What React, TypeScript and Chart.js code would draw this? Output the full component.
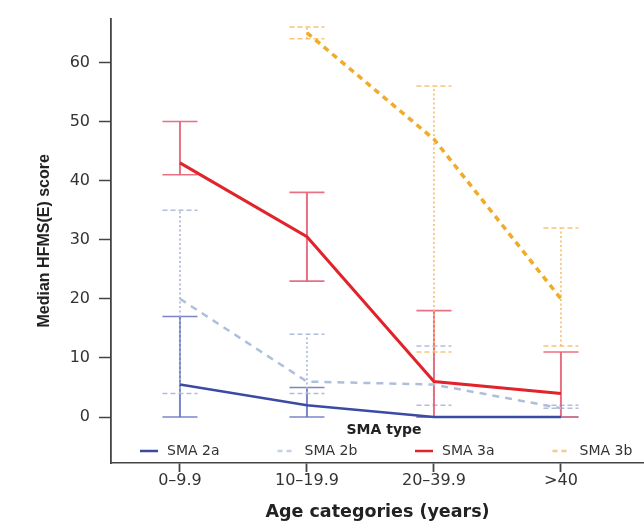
import React, { useEffect, useRef } from 'react';
import { Chart, registerables } from 'chart.js';

Chart.register(...registerables);

// ---- data ----
const categories = ['0–9.9', '10–19.9', '20–39.9', '>40'];
const categoryPositions = [1, 2, 3, 4];
const yTickValues = [0, 10, 20, 30, 40, 50, 60];
const legendTitle = 'SMA type';
const seriesNames = ['SMA 2a', 'SMA 2b', 'SMA 3a', 'SMA 3b'];

const sma2aMedian = [5.5, 2, 0, 0];
const sma2aLow = [0, 0, 0, 0];
const sma2aHigh = [17, 5, 0, 0];

const sma2bMedian = [20, 6, 5.5, 1.5];
const sma2bLow = [4, 4, 2, 1.5];
const sma2bHigh = [35, 14, 12, 2];

const sma3aMedian = [43, 30.5, 6, 4];
const sma3aLow = [41, 23, 0, 0];
const sma3aHigh = [50, 38, 18, 11];

const sma3bMedian = [null, 65, 47, 20];
const sma3bLow = [null, 64, 11, 12];
const sma3bHigh = [null, 66, 56, 32];

const WIDE = '"DejaVu Sans", Verdana, sans-serif';
const NARROW = '"Liberation Sans", Arial, Helvetica, sans-serif';

const toPoints = (vals: (number | null)[]) =>
  vals
    .map((v, i) => (v == null ? null : { x: categoryPositions[i], y: v }))
    .filter((p) => p !== null);

const errorBarPlugin = {
  id: 'errorBars',
  beforeDatasetsDraw(chart: any) {
    const { ctx } = chart;
    const xs = chart.scales.x;
    const ys = chart.scales.y;
    chart.data.datasets.forEach((ds: any) => {
      ds.errLow.forEach((lo: number | null, i: number) => {
        const hi = ds.errHigh[i];
        if (lo == null || hi == null) return;
        const px = xs.getPixelForValue(categoryPositions[i]);
        const pLo = ys.getPixelForValue(lo);
        const pHi = ys.getPixelForValue(hi);
        const half = 17.5;
        ctx.save();
        ctx.strokeStyle = ds.errColor;
        ctx.lineWidth = ds.errWidth;
        ctx.setLineDash(ds.errDash);
        ctx.beginPath();
        ctx.moveTo(px, pLo);
        ctx.lineTo(px, pHi);
        ctx.stroke();
        ctx.setLineDash(ds.capDash);
        ctx.lineWidth = ds.capWidth;
        ctx.beginPath();
        ctx.moveTo(px - half, pLo);
        ctx.lineTo(px + half, pLo);
        ctx.moveTo(px - half, pHi);
        ctx.lineTo(px + half, pHi);
        ctx.stroke();
        ctx.restore();
      });
    });
  },
};

const insideLegendPlugin = {
  id: 'insideLegend',
  afterDraw(chart: any) {
    const { ctx, chartArea } = chart;
    ctx.save();
    ctx.textBaseline = 'middle';
    ctx.font = `bold 14px ${WIDE}`;
    ctx.fillStyle = '#222';
    ctx.textAlign = 'center';
    ctx.fillText(legendTitle, chartArea.left + 273, chartArea.bottom - 33);
    ctx.font = `14px ${WIDE}`;
    ctx.textAlign = 'left';
    const rowY = chartArea.bottom - 12;
    chart.data.datasets.forEach((ds: any, i: number) => {
      const x0 = chartArea.left + 29 + i * 137.5;
      ctx.save();
      ctx.strokeStyle = ds.legendColor;
      ctx.lineWidth = 2.5;
      ctx.setLineDash(ds.legendDash);
      ctx.beginPath();
      ctx.moveTo(x0, rowY);
      ctx.lineTo(x0 + 18, rowY);
      ctx.stroke();
      ctx.restore();
      ctx.fillStyle = '#333';
      ctx.fillText(ds.label, x0 + 27, rowY + 0.5);
    });
    ctx.restore();
  },
};

export default function App() {
  const canvasRef = useRef<HTMLCanvasElement | null>(null);

  useEffect(() => {
    document.body.style.margin = '0';
    const canvas = canvasRef.current;
    if (!canvas) return;
    const chart = new Chart(canvas, {
      type: 'line',
      data: {
        datasets: [
          {
            label: seriesNames[0],
            data: toPoints(sma2aMedian),
            borderColor: '#3b4ba3',
            borderWidth: 2.5,
            pointRadius: 0,
            errLow: sma2aLow,
            errHigh: sma2aHigh,
            errColor: 'rgba(100,112,190,0.85)',
            errWidth: 2,
            capWidth: 1.6,
            errDash: [],
            capDash: [],
            legendColor: '#3b4ba3',
            legendDash: [],
          } as any,
          {
            label: seriesNames[1],
            data: toPoints(sma2bMedian),
            borderColor: '#aebfdc',
            borderWidth: 2.5,
            borderDash: [7, 6],
            pointRadius: 0,
            errLow: sma2bLow,
            errHigh: sma2bHigh,
            errColor: 'rgba(170,182,215,0.9)',
            errWidth: 1.8,
            capWidth: 1.5,
            errDash: [2, 2.5],
            capDash: [5, 3],
            legendColor: '#c4cfe0',
            legendDash: [5, 4],
          } as any,
          {
            label: seriesNames[2],
            data: toPoints(sma3aMedian),
            borderColor: '#e1232c',
            borderWidth: 3,
            pointRadius: 0,
            errLow: sma3aLow,
            errHigh: sma3aHigh,
            errColor: 'rgba(228,98,118,0.9)',
            errWidth: 2,
            capWidth: 1.6,
            errDash: [],
            capDash: [],
            legendColor: '#e1232c',
            legendDash: [],
          } as any,
          {
            label: seriesNames[3],
            data: toPoints(sma3bMedian),
            borderColor: '#f0ab28',
            borderWidth: 3.5,
            borderDash: [6, 5],
            pointRadius: 0,
            errLow: sma3bLow,
            errHigh: sma3bHigh,
            errColor: 'rgba(248,190,110,0.9)',
            errWidth: 1.8,
            capWidth: 1.5,
            errDash: [2, 2.5],
            capDash: [5, 3],
            legendColor: '#f6c88a',
            legendDash: [5, 4],
          } as any,
        ],
      },
      options: {
        responsive: false,
        animation: false,
        events: [],
        layout: { padding: { top: 18, right: 0, bottom: 0, left: 0 } },
        plugins: {
          legend: { display: false },
          tooltip: { enabled: false },
        },
        scales: {
          x: {
            type: 'linear',
            min: 0.457,
            max: 4.654,
            afterBuildTicks: (s: any) => {
              s.ticks = categoryPositions.map((v) => ({ value: v }));
            },
            afterFit: (s: any) => {
              s.height = 60;
            },
            ticks: {
              callback: (_v: any, i: number) => categories[i],
              font: { family: WIDE, size: 16 },
              color: '#333',
              padding: -1,
              autoSkip: false,
              maxRotation: 0,
            },
            grid: {
              drawOnChartArea: false,
              drawTicks: true,
              tickLength: 9,
              tickColor: '#444',
              tickWidth: 1.8,
            },
            border: { display: true, color: '#444', width: 1.5 },
            title: {
              display: true,
              text: 'Age categories (years)',
              font: { family: WIDE, size: 17.5, weight: 'bold' },
              color: '#222',
              padding: { top: 0, bottom: 0 },
            },
          },
          y: {
            type: 'linear',
            min: -7.77,
            max: 67.4,
            afterBuildTicks: (s: any) => {
              s.ticks = yTickValues.map((v) => ({ value: v }));
            },
            afterFit: (s: any) => {
              s.width = 111;
            },
            ticks: {
              font: { family: WIDE, size: 16 },
              color: '#333',
              padding: 9,
            },
            grid: {
              drawOnChartArea: false,
              drawTicks: true,
              tickLength: 12,
              tickColor: '#444',
              tickWidth: 1.5,
            },
            border: { display: true, color: '#444', width: 1.8 },
            title: {
              display: true,
              text: 'Median HFMS(E) score',
              font: { family: NARROW, size: 16, weight: 'bold' },
              color: '#222',
              padding: { top: 35, bottom: 0 },
            },
          },
        },
      },
      plugins: [errorBarPlugin, insideLegendPlugin],
    } as any);
    return () => chart.destroy();
  }, []);

  return (
    <div style={{ position: 'fixed', left: 0, top: 0, width: 644, height: 523, background: '#fff' }}>
      <canvas ref={canvasRef} width={644} height={523} />
    </div>
  );
}
